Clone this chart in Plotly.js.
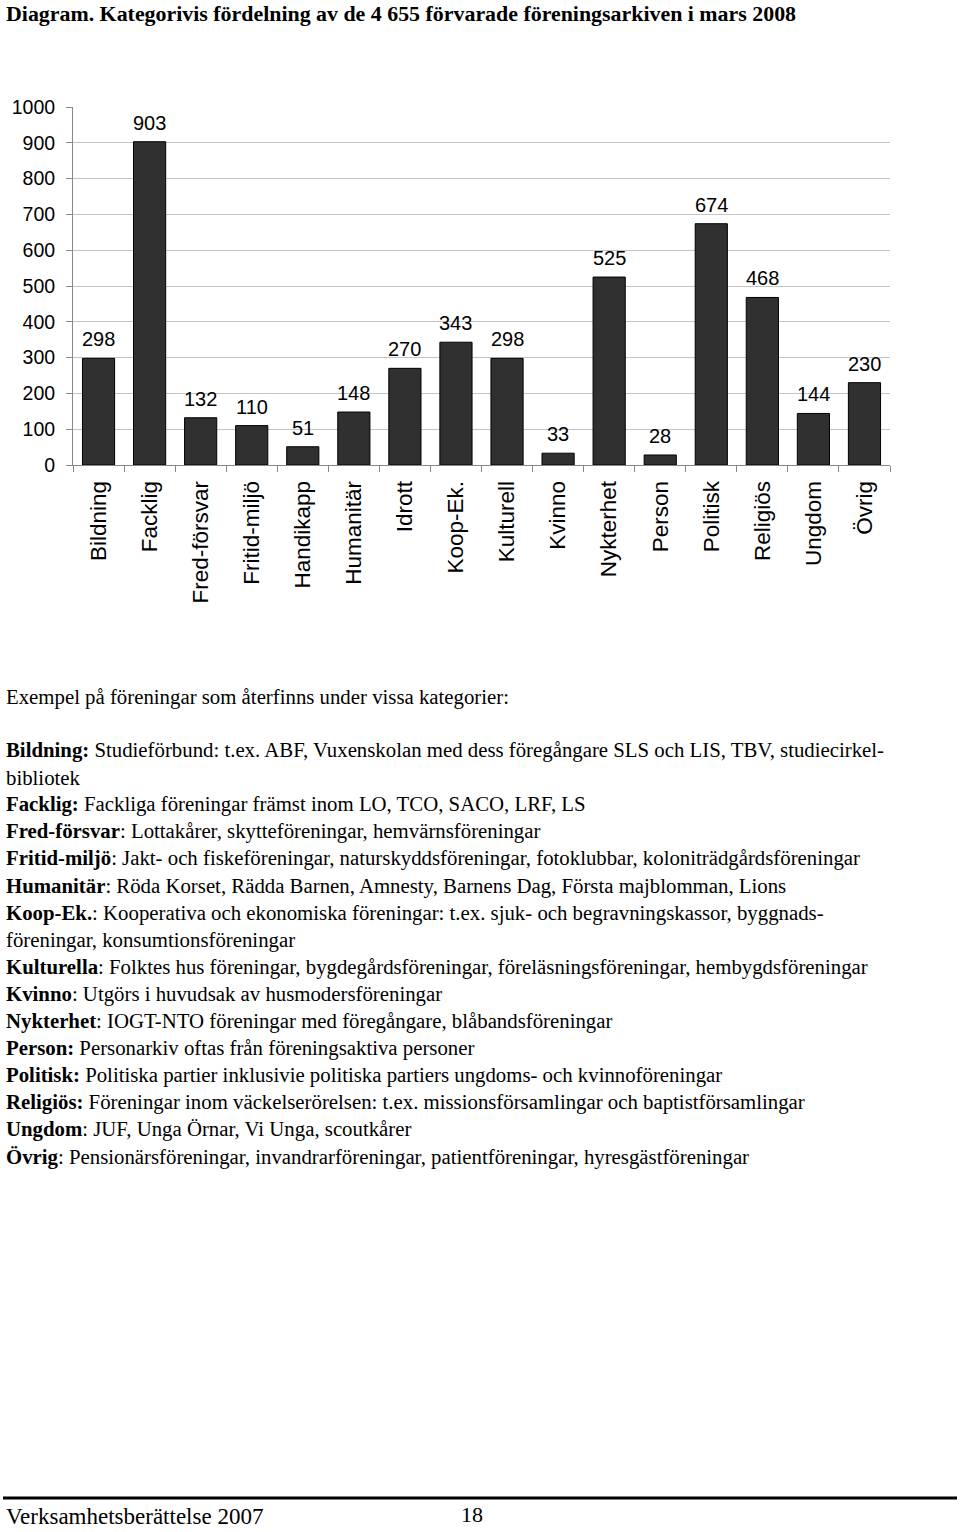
<!DOCTYPE html>
<html>
<head>
<meta charset="utf-8">
<script src="https://cdn.plot.ly/plotly-3.0.1.min.js"></script>
<style>
html,body{margin:0;padding:0;background:#fff;}
#chart{width:960px;height:1532px;}
</style>
</head>
<body>
<div id="chart"></div>
<script>
const categories = ["Bildning","Facklig","Fred-försvar","Fritid-miljö","Handikapp","Humanitär","Idrott","Koop-Ek.","Kulturell","Kvinno","Nykterhet","Person","Politisk","Religiös","Ungdom","Övrig"];
const counts = [298, 903, 132, 110, 51, 148, 270, 343, 298, 33, 525, 28, 674, 468, 144, 230];
const yTicks = [0,100,200,300,400,500,600,700,800,900,1000];

const titleText = "Diagram. Kategorivis fördelning av de 4 655 förvarade föreningsarkiven i mars 2008";
const introLine = "Exempel på föreningar som återfinns under vissa kategorier:";
const exampleLines = [
  "<b>Bildning:</b> Studieförbund: t.ex. ABF, Vuxenskolan med dess föregångare SLS och LIS, TBV, studiecirkel-",
  "bibliotek",
  "<b>Facklig:</b> Fackliga föreningar främst inom LO, TCO, SACO, LRF, LS",
  "<b>Fred-försvar</b>: Lottakårer, skytteföreningar, hemvärnsföreningar",
  "<b>Fritid-miljö</b>: Jakt- och fiskeföreningar, naturskyddsföreningar, fotoklubbar, koloniträdgårdsföreningar",
  "<b>Humanitär</b>: Röda Korset, Rädda Barnen, Amnesty, Barnens Dag, Första majblomman, Lions",
  "<b>Koop-Ek.</b>: Kooperativa och ekonomiska föreningar: t.ex. sjuk- och begravningskassor, byggnads-",
  "föreningar, konsumtionsföreningar",
  "<b>Kulturella</b>: Folktes hus föreningar, bygdegårdsföreningar, föreläsningsföreningar, hembygdsföreningar",
  "<b>Kvinno</b>: Utgörs i huvudsak av husmodersföreningar",
  "<b>Nykterhet</b>: IOGT-NTO föreningar med föregångare, blåbandsföreningar",
  "<b>Person:</b> Personarkiv oftas från föreningsaktiva personer",
  "<b>Politisk:</b> Politiska partier inklusivie politiska partiers ungdoms- och kvinnoföreningar",
  "<b>Religiös:</b> Föreningar inom väckelserörelsen: t.ex. missionsförsamlingar och baptistförsamlingar",
  "<b>Ungdom</b>: JUF, Unga Örnar, Vi Unga, scoutkårer",
  "<b>Övrig</b>: Pensionärsföreningar, invandrarföreningar, patientföreningar, hyresgästföreningar"
];
const footerText = "Verksamhetsberättelse 2007";
const pageNumber = "18";

// Plot area in pixels
const W = 960, H = 1532;
const L = 73, R = 890, T = 107, B = 465;
const px = x => (x - L) / (R - L);
const py = y => (B - y) / (B - T);

const serif = "Liberation Serif, Times New Roman, serif";
const sans = "Liberation Sans, Arial, sans-serif";

const annotations = [];
// value labels
categories.forEach((c, i) => {
  annotations.push({
    x: c, y: counts[i], xref: 'x', yref: 'y',
    text: String(counts[i]), showarrow: false,
    yanchor: 'bottom', yshift: 6,
    font: {family: sans, size: 20, color: '#000'}
  });
});
// title
annotations.push({
  x: px(4), y: py(13), xref: 'paper', yref: 'paper', xanchor: 'left', yanchor: 'middle',
  text: "<b>" + titleText + "</b>", showarrow: false,
  font: {family: serif, size: 21.9, color: '#000'}
});
// intro
annotations.push({
  x: px(4), y: py(697), xref: 'paper', yref: 'paper', xanchor: 'left', yanchor: 'middle',
  text: introLine, showarrow: false,
  font: {family: serif, size: 20.8, color: '#000'}
});
exampleLines.forEach((t, i) => {
  annotations.push({
    x: px(4), y: py(750 + i * 27.1), xref: 'paper', yref: 'paper', xanchor: 'left', yanchor: 'middle',
    text: t, showarrow: false,
    font: {family: serif, size: 20.8, color: '#000'}
  });
});
annotations.push({
  x: px(4), y: py(1516), xref: 'paper', yref: 'paper', xanchor: 'left', yanchor: 'middle',
  text: footerText, showarrow: false,
  font: {family: serif, size: 23, color: '#000'}
});
annotations.push({
  x: px(472), y: py(1514), xref: 'paper', yref: 'paper', xanchor: 'center', yanchor: 'middle',
  text: pageNumber, showarrow: false,
  font: {family: serif, size: 22, color: '#000'}
});

const trace = {
  type: 'bar',
  x: categories,
  y: counts,
  marker: {color: '#303030', line: {color: '#000', width: 1}},
  hoverinfo: 'x+y'
};

const layout = {
  width: W, height: H,
  margin: {l: L, r: W - R, t: T, b: H - B, pad: 0},
  paper_bgcolor: '#fff', plot_bgcolor: '#fff',
  showlegend: false,
  bargap: 0.37,
  font: {family: sans, color: '#000'},
  xaxis: {
    type: 'category',
    tickangle: -90,
    tickson: 'boundaries',
    ticks: 'outside', ticklen: 6, tickcolor: '#888', tickwidth: 1,
    showline: true, linecolor: '#888', linewidth: 1,
    showgrid: false,
    ticklabelstandoff: 6,
    tickfont: {family: sans, size: 22.5, color: '#000'},
    automargin: false
  },
  yaxis: {
    range: [0, 1000],
    tickvals: yTicks,
    ticks: 'outside', ticklen: 6, tickcolor: '#888', tickwidth: 1,
    showline: true, linecolor: '#888', linewidth: 1,
    showgrid: true, gridcolor: '#c4c4c4', gridwidth: 1,
    zeroline: false,
    ticklabelstandoff: 7,
    tickfont: {family: sans, size: 19.5, color: '#000'},
    automargin: false
  },
  annotations: annotations,
  shapes: [{
    type: 'line', xref: 'paper', yref: 'paper',
    x0: px(3), x1: px(957), y0: py(1498), y1: py(1498),
    line: {color: '#000', width: 3}
  }]
};

Plotly.newPlot('chart', [trace], layout, {staticPlot: true, displayModeBar: false});
</script>
</body>
</html>
